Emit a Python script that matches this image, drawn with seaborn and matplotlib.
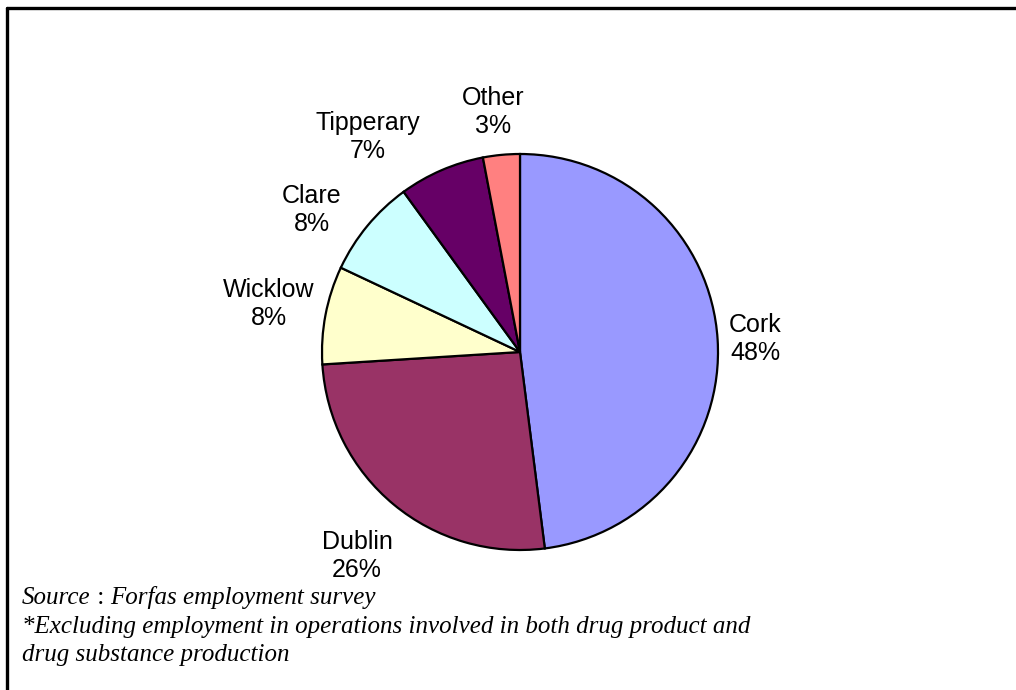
import matplotlib
matplotlib.use("Agg")
import matplotlib.pyplot as plt
from matplotlib.lines import Line2D
import seaborn as sns

# Employment share by county
counties = ["Cork", "Dublin", "Wicklow", "Clare", "Tipperary", "Other"]
shares = [48, 26, 8, 8, 7, 3]
colors = ["#9999FF", "#993366", "#FFFFCC", "#CCFFFF", "#660066", "#FF8080"]

# Label anchor points (pixel offsets from the pie centre, y downward)
label_offsets = [(235, -13), (-163, 204), (-251, -48), (-208, -142), (-152, -215), (-27, -240)]

source_note = "Forfas employment survey"
footnote_lines = [
    "*Excluding employment in operations involved in both drug product and",
    "drug substance production",
]

sns.set_theme(style="white")
plt.rcParams["font.family"] = ["Liberation Sans", "DejaVu Sans"]

W, H, DPI = 1016, 690, 100
fig = plt.figure(figsize=(W / DPI, H / DPI), dpi=DPI)
fig.patch.set_facecolor("white")

# Pie axes: centre at (520, 352) px, 1 data unit = 200 px
cx, cy, half = 520, 352, 250
ax = fig.add_axes([(cx - half) / W, (H - cy - half) / H, 2 * half / W, 2 * half / H])
ax.set_xlim(-1.25, 1.25)
ax.set_ylim(-1.25, 1.25)
ax.set_aspect("equal")
ax.axis("off")

ax.pie(
    shares,
    colors=colors,
    startangle=90,
    counterclock=False,
    radius=0.99,
    wedgeprops=dict(edgecolor="black", linewidth=1.6),
)

for name, val, (dx, dy) in zip(counties, shares, label_offsets):
    ax.text(dx / 200, -dy / 200, f"{name}\n{val}%", ha="center", va="center",
            fontsize=18, color="black", linespacing=1.2,
            family=["Liberation Sans", "DejaVu Sans"])

# Footer notes
serif = ["Liberation Serif", "DejaVu Serif"]
fs = 18
x0 = 22 / W
t1 = fig.text(x0, 1 - 598 / H, "Source", fontsize=fs, style="italic", family=serif,
              va="center", ha="left", color="black")
colon = plt.annotate(" : ", xy=(1, 0), xycoords=t1, va="bottom", ha="left",
                     fontsize=fs, family=serif, annotation_clip=False, color="black")
plt.annotate(source_note, xy=(1, 0), xycoords=colon, va="bottom", ha="left",
             fontsize=fs, style="italic", family=serif, annotation_clip=False,
             color="black")
for i, line in enumerate(footnote_lines):
    fig.text(x0, 1 - (627 + 28.5 * i) / H, line, fontsize=fs, style="italic",
             family=serif, va="center", ha="left", color="black")

# Frame edges (top and left)
fig.add_artist(Line2D([6.5 / W, 1.0], [1 - 8 / H, 1 - 8 / H], color="black",
                      linewidth=2.4, transform=fig.transFigure))
fig.add_artist(Line2D([6.5 / W, 6.5 / W], [1 - 8 / H, 0.0], color="black",
                      linewidth=2.4, transform=fig.transFigure))

fig.savefig("out.png", dpi=DPI, facecolor="white")
